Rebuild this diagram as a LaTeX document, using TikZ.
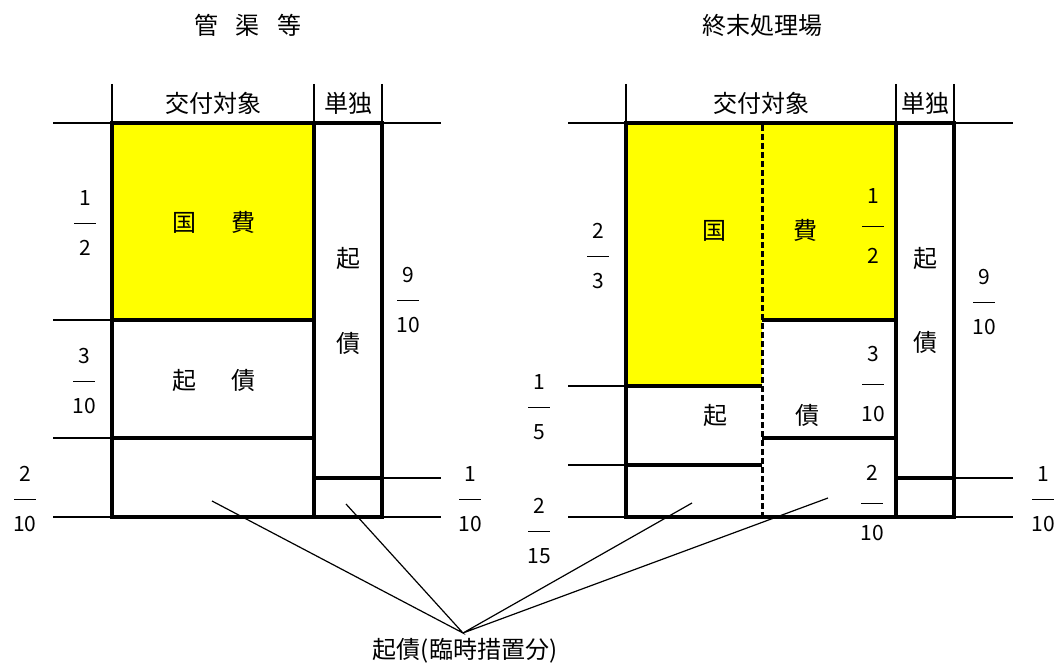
\documentclass[tikz,border=0pt]{standalone}
\usepackage{fontspec}
\setmainfont{Noto Sans CJK JP}
\definecolor{kihi}{RGB}{255,255,0}
\tikzset{
	thickline/.style={line width=3.2pt},
	thinline/.style={line width=1.1pt},
	dashline/.style={line width=3pt, dash pattern=on 6pt off 3pt},
	kanji/.style={inner sep=0pt, font=\fontsize{24}{28}\selectfont},
	bunsu/.style={align=center, inner sep=0pt, font=\fontsize{21}{25}\selectfont},
	bunsuwide/.style={bunsu, font=\fontsize{21}{30}\selectfont},
	leader/.style={line width=1.2pt},
}
\newcommand{\bun}[2]{#1\\\rule[6pt]{22pt}{1.3pt}\\#2}

\begin{document}
\begin{tikzpicture}[x=1pt,y=-1pt]
	\useasboundingbox (0,0) rectangle (1057,663);
	%\draw[help lines] (0,0) grid[step=50] (1057,663);

	% 管渠等
	\node[kanji] (titleA) at (248,25) {管\hspace{17.5pt}渠\hspace{17.5pt}等};
	\fill[kihi] (112,123) rectangle (314,320);
	\draw[thinline] (112,84) -- (112,123) (314,84) -- (314,123) (382,84) -- (382,123);
	\draw[thinline] (53,123) -- (112,123) (53,320) -- (112,320) (53,438) -- (112,438) (53,517) -- (112,517);
	\draw[thinline] (382,123) -- (441,123) (382,478) -- (441,478) (382,517) -- (441,517);
	\draw[thickline] (112,123) rectangle (314,517) (314,123) rectangle (382,517);
	\draw[thickline] (112,320) -- (314,320) (112,438) -- (314,438) (314,478) -- (382,478);
	\node[kanji] (kofuA) at (213,103) {交付対象};
	\node[kanji] (tandokuA) at (348,103) {単独};
	\node[kanji] (kokuhiA) at (214,222) {国\hspace{35pt}費};
	\node[kanji] (kisaiA) at (214,380) {起\hspace{35pt}債};
	\node[kanji] (kiA) at (348,258) {起};
	\node[kanji] (saiA) at (348,343) {債};
	\node[bunsu] (halfA) at (85,223) {\bun{1}{2}};
	\node[bunsu] (threeA) at (84,381) {\bun{3}{10}};
	\node[bunsu] (twoA) at (25,499) {\bun{2}{10}};
	\node[bunsu] (nineA) at (408,300) {\bun{9}{10}};
	\node[bunsu] (oneA) at (470,499) {\bun{1}{10}};

	% 終末処理場
	\node[kanji] (titleB) at (762,25) {終末処理場};
	\fill[kihi] (626,123) rectangle (762,386) (762,123) rectangle (896,320);
	\draw[thinline] (626,84) -- (626,123) (896,84) -- (896,123) (954,84) -- (954,123);
	\draw[thinline] (568,123) -- (626,123) (568,386) -- (626,386) (568,465) -- (626,465) (568,517) -- (626,517);
	\draw[thinline] (954,123) -- (1013,123) (954,478) -- (1013,478) (954,517) -- (1013,517);
	\draw[thickline] (626,123) rectangle (896,517) (896,123) rectangle (954,517);
	\draw[thickline] (626,386) -- (762,386) (626,465) -- (762,465) (762,320) -- (896,320) (762,438) -- (896,438) (896,478) -- (954,478);
	\draw[dashline] (762,125) -- (762,515);
	\node[kanji] (kofuB) at (761,103) {交付対象};
	\node[kanji] (tandokuB) at (925,103) {単独};
	\node[kanji] (kokuhiB) at (760,230) {国\hspace{67pt}費};
	\node[kanji] (kisaiB) at (761,415) {起\hspace{68pt}債};
	\node[kanji] (kiB) at (925,258) {起};
	\node[kanji] (saiB) at (925,342) {債};
	\node[bunsu] (twothirdB) at (598,256) {\bun{2}{3}};
	\node[bunsu] (fifthB) at (539,407) {\bun{1}{5}};
	\node[bunsu] (fifteenB) at (539,531) {\bun{2}{15}};
	\node[bunsuwide] (halfB) at (873,226) {\bun{1}{2}};
	\node[bunsuwide] (threeB) at (873,384) {\bun{3}{10}};
	\node[bunsuwide] (twoB) at (872,503) {\bun{2}{10}};
	\node[bunsu] (nineB) at (984,302) {\bun{9}{10}};
	\node[bunsu] (oneB) at (1043,499) {\bun{1}{10}};

	% 起債(臨時措置分)
	\coordinate (hub) at (463,633);
	\coordinate (rinjiA) at (212,501);
	\coordinate (rinjiAt) at (346,504);
	\coordinate (rinjiB) at (692,503);
	\coordinate (rinjiBt) at (828,498);
	\node[kanji] (rinji) at (465,651) {起債(臨時措置分)};
	\draw[leader] (rinjiA) -- (hub) -- (rinjiAt);
	\draw[leader] (rinjiB) -- (hub) -- (rinjiBt);
\end{tikzpicture}
\end{document}
